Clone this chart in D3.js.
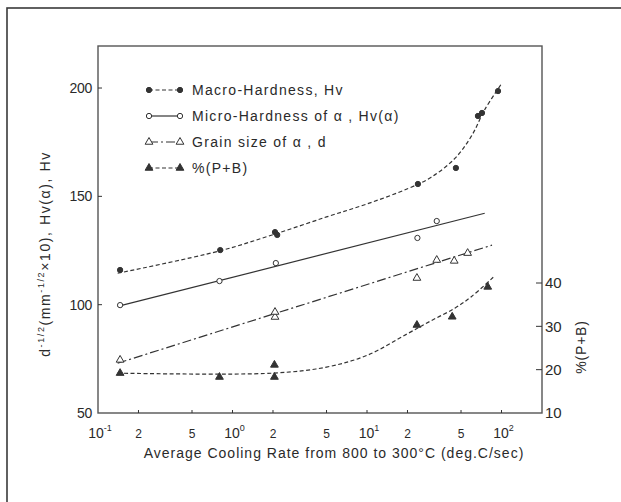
<!DOCTYPE html>
<html><head><meta charset="utf-8">
<script src="https://cdn.jsdelivr.net/npm/d3@7"></script>
<style>
body{margin:0;background:#fff;}
svg{display:block;}
text{font-family:"Liberation Sans",Arial,sans-serif;fill:#2a2a2a;}
</style></head>
<body><svg id="c" width="621" height="502"></svg>
<script>
// ---- data ----
const macroX = [0.146, 0.81, 2.07, 2.15, 23.9, 45.8, 66.8, 71.6, 94.2];
const macroY = [116.0, 125.2, 133.5, 132.2, 155.7, 163.1, 187.1, 188.5, 198.6];
const macroFitX = [0.14, 0.8, 2, 5, 10, 20, 30, 45, 60, 75, 100];
const macroFitY = [114.5, 124.8, 132.3, 140.5, 146.5, 153.5, 158.8, 167.5, 178, 190, 202];

const microX = [0.146, 0.8, 2.1, 23.7, 33];
const microY = [99.8, 110.9, 119.2, 130.8, 138.6];
const microFitX = [0.14, 75];
const microFitY = [99.2, 142.2];

const grainX = [0.146, 2.07, 2.07, 23.5, 33, 44.5, 56];
const grainY = [74.5, 94.3, 96.6, 112.3, 120.6, 120.2, 123.8];
const grainFitX = [0.14, 85];
const grainFitY = [73, 127.5];

const pbX = [0.146, 0.8, 2.05, 2.05, 23.5, 43, 79];
const pbY = [19.2, 18.3, 21.1, 18.3, 30.3, 32.2, 39.1];
const pbFitX = [0.14, 2, 5, 10, 20, 30, 45, 60, 88];
const pbFitY = [19.2, 19.2, 20.6, 23.3, 28.3, 31.3, 34.2, 36.9, 41.5];

const xMajorTicks = [0.1, 1, 10, 100];
const xMajorExp = ["-1", "0", "1", "2"];
const xMinorTicks = [0.2, 0.5, 2, 5, 20, 50];
const xMinorLabels = ["2", "5", "2", "5", "2", "5"];
const leftTicks = [50, 100, 150, 200];
const rightTicks = [10, 20, 30, 40];
const legendLabels = ["Macro-Hardness, Hv", "Micro-Hardness of \u03b1 , Hv(\u03b1)", "Grain size of \u03b1 ,  d", "%(P+B)"];

// ---- layout ----
const svg = d3.select("#c");
const L = 98, R = 542, T = 46, B = 413;
const x = d3.scaleLog().domain([0.1, 200]).range([L, R]);
const yL = d3.scaleLinear().domain([50, 219.4]).range([B, T]);
const yR = d3.scaleLinear().domain([10, 94.7]).range([B, T]);
const ink = "#333";

// outer border
svg.append("rect").attr("x", 7).attr("y", 8).attr("width", 630).attr("height", 510)
  .attr("fill", "none").attr("stroke", "#3a3a3a").attr("stroke-width", 1.6);

// frame
svg.append("rect").attr("x", L).attr("y", T).attr("width", R - L).attr("height", B - T)
  .attr("fill", "none").attr("stroke", "#555").attr("stroke-width", 1.4);

// left axis ticks
const gL = svg.append("g");
leftTicks.forEach(v => {
  if (v !== 50) gL.append("line").attr("x1", L).attr("x2", L + 4).attr("y1", yL(v)).attr("y2", yL(v)).attr("stroke", ink);
  gL.append("text").attr("x", L - 6).attr("y", yL(v)).attr("dy", "0.35em").attr("text-anchor", "end")
    .attr("font-size", 14).attr("letter-spacing", -0.3).text(v);
});
// right axis ticks
rightTicks.forEach(v => {
  if (v !== 10) gL.append("line").attr("x1", R).attr("x2", R - 6).attr("y1", yR(v)).attr("y2", yR(v)).attr("stroke", ink);
  gL.append("text").attr("x", R + 3).attr("y", yR(v)).attr("dy", "0.35em").attr("text-anchor", "start")
    .attr("font-size", 15).text(v);
});
// x ticks
const xt = xMajorTicks.concat(xMinorTicks);
xt.forEach(v => {
  if (v !== 0.1) gL.append("line").attr("x1", x(v)).attr("x2", x(v)).attr("y1", B).attr("y2", B - 3).attr("stroke", ink);
});
xMajorTicks.forEach((v, i) => {
  const t = gL.append("text").attr("x", x(v) + 2).attr("y", B + 25).attr("text-anchor", "middle").attr("font-size", 14);
  t.append("tspan").text("10");
  t.append("tspan").attr("font-size", 9).attr("dy", -7).text(xMajorExp[i]);
});
xMinorTicks.forEach((v, i) => {
  gL.append("text").attr("x", x(v)).attr("y", B + 25).attr("text-anchor", "middle").attr("font-size", 12).text(xMinorLabels[i]);
});

// axis titles
svg.append("text").attr("x", 334).attr("y", 458).attr("text-anchor", "middle").attr("font-size", 14)
  .attr("letter-spacing", 1.0).text("Average Cooling Rate from 800 to 300\u00b0C (deg.C/sec)");
const yt = svg.append("text").attr("transform", "translate(50,254) rotate(-90)").attr("text-anchor", "middle")
  .attr("font-size", 14).attr("letter-spacing", 1.6);
yt.append("tspan").text("d");
yt.append("tspan").attr("font-size", 9).attr("dy", -6).text("-1/2");
yt.append("tspan").attr("dy", 6).text("(mm");
yt.append("tspan").attr("font-size", 9).attr("dy", -6).text("-1/2");
yt.append("tspan").attr("dy", 6).text("\u00d710),  Hv(\u03b1),  Hv");
svg.append("text").attr("transform", "translate(586,347) rotate(-90)").attr("text-anchor", "middle").attr("font-size", 14)
  .attr("letter-spacing", 0.8).text("%(P+B)");

// ---- series ----
const line = (ys) => d3.line().x(d => x(d[0])).y(d => ys(d[1])).curve(d3.curveCatmullRom.alpha(0.5));
const zip = (a, b) => a.map((v, i) => [v, b[i]]);

const series = [
  {fx: macroFitX, fy: macroFitY, px: macroX, py: macroY, ys: yL, dash: "4,2.5", sym: "circle", fill: ink},
  {fx: microFitX, fy: microFitY, px: microX, py: microY, ys: yL, dash: null, sym: "circle", fill: "#fff"},
  {fx: grainFitX, fy: grainFitY, px: grainX, py: grainY, ys: yL, dash: "9,3,2,3", sym: "triangle", fill: "#fff"},
  {fx: pbFitX, fy: pbFitY, px: pbX, py: pbY, ys: yR, dash: "4,2.5", sym: "triangle", fill: ink}
];
const symGen = (s) => d3.symbol().type(s === "circle" ? d3.symbolCircle : d3.symbolTriangle).size(s === "circle" ? 22 : 26);

series.forEach(s => {
  svg.append("path").attr("d", line(s.ys)(zip(s.fx, s.fy))).attr("fill", "none").attr("stroke", ink)
    .attr("stroke-width", 1.2).attr("stroke-dasharray", s.dash);
  svg.selectAll(null).data(zip(s.px, s.py)).enter().append("path")
    .attr("transform", d => `translate(${x(d[0])},${s.ys(d[1])})`)
    .attr("d", symGen(s.sym)()).attr("fill", s.fill).attr("stroke", ink).attr("stroke-width", 1);
});

// legend
const lg = svg.append("g");
legendLabels.forEach((lab, i) => {
  const s = series[i];
  const yy = 90 + i * 26;
  lg.append("line").attr("x1", 149).attr("x2", 180).attr("y1", yy).attr("y2", yy).attr("stroke", ink)
    .attr("stroke-width", 1.2).attr("stroke-dasharray", s.dash);
  [149, 180].forEach(xx => lg.append("path").attr("transform", `translate(${xx},${yy})`).attr("d", symGen(s.sym)())
    .attr("fill", s.fill).attr("stroke", ink));
  lg.append("text").attr("x", 192).attr("y", yy).attr("dy", "0.35em").attr("font-size", 14).attr("letter-spacing", 1.3).text(lab);
});
</script></body></html>
